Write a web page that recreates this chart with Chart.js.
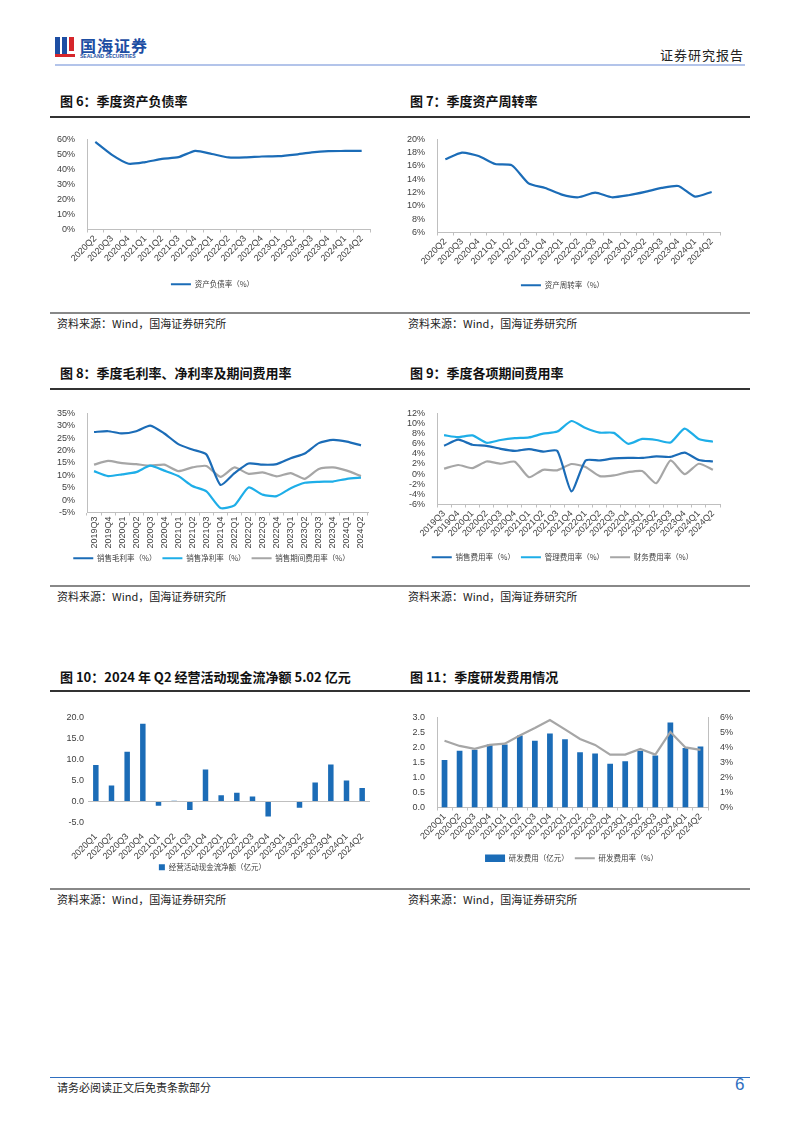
<!DOCTYPE html>
<html>
<head>
<meta charset="utf-8">
<script src="https://cdn.jsdelivr.net/npm/chart.js@4.4.1/dist/chart.umd.min.js"></script>
<style>
  body { margin: 0; background: #fff; font-family: "Noto Sans CJK SC", "Liberation Sans", sans-serif; }
  .page { position: relative; width: 802px; height: 1133px; }
  .abs { position: absolute; }
  .title { font-size: 13px; font-weight: bold; color: #111; white-space: nowrap; }
  .src { font-size: 11px; color: #222; white-space: nowrap; }
  .rule { height: 2px; background: #333; left: 50px; width: 700px; }
  .srule { height: 2px; background: #888; left: 50px; width: 700px; }
  .box canvas { display: block; }
</style>
</head>
<body>
<div class="page">
  <!-- header -->
  <div class="abs" style="left:55px;top:37px;width:5px;height:20px;background:#1d4ea3"></div>
  <div class="abs" style="left:62px;top:37px;width:5px;height:20px;background:#1d4ea3"></div>
  <div class="abs" style="left:69px;top:37px;width:5px;height:14px;background:#d6262b"></div>
  <div class="abs" style="left:55px;top:54px;width:20px;height:3px;background:#d6262b"></div>
  <div class="abs" style="left:80px;top:33px;font-size:16px;font-weight:bold;color:#1d4ea3;letter-spacing:1px">国海证券</div>
  <div class="abs" style="left:80px;top:53px;font-size:5px;font-weight:bold;color:#1d4ea3;font-family:'Liberation Sans'">SEALAND SECURITIES</div>
  <div class="abs" style="left:660px;top:45px;font-size:13px;color:#222;letter-spacing:1px">证券研究报告</div>
  <div class="abs" style="left:55px;top:64px;width:690px;height:2px;background:#b3c4ea"></div>

  <!-- row 1 -->
  <div class="abs title" style="left:60px;top:91px">图 6：季度资产负债率</div>
  <div class="abs title" style="left:410px;top:91px">图 7：季度资产周转率</div>
  <div class="abs rule" style="top:116px"></div>
  <div class="abs box" style="left:55px;top:130px;width:320px;height:168px"><canvas id="c6"></canvas></div>
  <div class="abs box" style="left:405px;top:130px;width:345px;height:169px"><canvas id="c7"></canvas></div>
  <div class="abs srule" style="top:312px"></div>
  <div class="abs src" style="left:57px;top:315px">资料来源：Wind，国海证券研究所</div>
  <div class="abs src" style="left:408px;top:315px">资料来源：Wind，国海证券研究所</div>

  <!-- row 2 -->
  <div class="abs title" style="left:60px;top:363px">图 8：季度毛利率、净利率及期间费用率</div>
  <div class="abs title" style="left:410px;top:363px">图 9：季度各项期间费用率</div>
  <div class="abs rule" style="top:388px"></div>
  <div class="abs box" style="left:55px;top:404px;width:320px;height:168px"><canvas id="c8"></canvas></div>
  <div class="abs box" style="left:405px;top:404px;width:345px;height:167px"><canvas id="c9"></canvas></div>
  <div class="abs srule" style="top:585px"></div>
  <div class="abs src" style="left:57px;top:588px">资料来源：Wind，国海证券研究所</div>
  <div class="abs src" style="left:408px;top:588px">资料来源：Wind，国海证券研究所</div>

  <!-- row 3 -->
  <div class="abs title" style="left:60px;top:667px">图 10：2024 年 Q2 经营活动现金流净额 5.02 亿元</div>
  <div class="abs title" style="left:410px;top:667px">图 11：季度研发费用情况</div>
  <div class="abs rule" style="top:690px"></div>
  <div class="abs box" style="left:55px;top:708px;width:320px;height:173px"><canvas id="c10"></canvas></div>
  <div class="abs box" style="left:405px;top:708px;width:345px;height:164px"><canvas id="c11"></canvas></div>
  <div class="abs srule" style="top:888px"></div>
  <div class="abs src" style="left:57px;top:891px">资料来源：Wind，国海证券研究所</div>
  <div class="abs src" style="left:408px;top:891px">资料来源：Wind，国海证券研究所</div>

  <!-- footer -->
  <div class="abs" style="left:50px;top:1077px;width:700px;height:1px;background:#2f6fc0"></div>
  <div class="abs src" style="left:57px;top:1079px">请务必阅读正文后免责条款部分</div>
  <div class="abs" style="left:735px;top:1075px;font-size:17px;color:#2f6fc0;font-family:'Liberation Sans'">6</div>
</div>

<script>
// quarter labels
const q20to24 = ['2020Q2','2020Q3','2020Q4','2021Q1','2021Q2','2021Q3','2021Q4','2022Q1','2022Q2','2022Q3','2022Q4','2023Q1','2023Q2','2023Q3','2023Q4','2024Q1','2024Q2'];
const q19to24 = ['2019Q3','2019Q4','2020Q1','2020Q2','2020Q3','2020Q4','2021Q1','2021Q2','2021Q3','2021Q4','2022Q1','2022Q2','2022Q3','2022Q4','2023Q1','2023Q2','2023Q3','2023Q4','2024Q1','2024Q2'];
const q20q1to24 = ['2020Q1','2020Q2','2020Q3','2020Q4','2021Q1','2021Q2','2021Q3','2021Q4','2022Q1','2022Q2','2022Q3','2022Q4','2023Q1','2023Q2','2023Q3','2023Q4','2024Q1','2024Q2'];

// fig 6 / 7
const debtRatio = [58.3, 49.7, 43.8, 44.9, 47.0, 48.2, 52.4, 50.3, 48.0, 48.0, 48.6, 48.8, 49.9, 51.4, 52.2, 52.3, 52.4];
const turnover = [17.0, 18.0, 17.5, 16.3, 16.1, 13.4, 12.7, 11.7, 11.3, 12.0, 11.3, 11.6, 12.1, 12.7, 13.0, 11.4, 12.1];

// fig 8
const grossMargin = [27.5, 27.8, 26.9, 27.8, 30.1, 26.9, 22.6, 20.4, 18.4, 6.1, 10.9, 14.8, 14.3, 14.5, 16.9, 18.8, 23.0, 24.3, 23.6, 22.1];
const netMargin = [11.7, 9.7, 10.4, 11.3, 13.9, 11.9, 9.7, 5.7, 3.5, -3.2, -2.1, 5.1, 2.2, 1.6, 4.8, 7.0, 7.4, 7.5, 8.6, 9.1];
const periodExp = [14.3, 15.8, 14.9, 14.5, 13.9, 14.3, 11.7, 13.2, 13.8, 9.4, 13.2, 10.6, 11.2, 9.6, 10.9, 8.6, 12.6, 13.2, 11.9, 9.7];

// fig 9
const sellExp = [5.6, 6.8, 5.8, 5.6, 5.0, 4.6, 4.95, 4.45, 4.6, -3.4, 2.7, 2.7, 3.1, 3.2, 3.2, 3.5, 3.4, 4.25, 2.8, 2.5];
const mgmtExp = [7.7, 7.3, 7.65, 6.2, 6.75, 7.1, 7.25, 8.0, 8.4, 10.5, 9.1, 8.2, 8.15, 6.0, 6.95, 6.75, 6.25, 9.0, 6.95, 6.4];
const finExp = [1.1, 1.8, 1.2, 2.5, 2.05, 2.45, -0.6, 0.85, 0.75, 2.0, 1.4, -0.4, -0.25, 0.4, 0.6, -1.8, 2.7, 0.0, 2.05, 0.85];

// fig 10
const opCashFlow = [8.7, 3.8, 11.8, 18.5, -1.0, 0.2, -2.0, 7.6, 1.5, 2.1, 1.2, -3.6, 0.1, -1.5, 4.5, 8.8, 5.0, 3.2];

// fig 11
const rdExpense = [1.58, 1.89, 1.92, 2.10, 2.10, 2.40, 2.22, 2.46, 2.27, 1.84, 1.80, 1.46, 1.54, 1.89, 1.73, 2.83, 1.98, 2.03];
const rdRatio = [4.44, 4.10, 3.90, 4.17, 4.25, 4.80, 5.30, 5.83, 5.20, 4.56, 4.17, 3.52, 3.52, 3.90, 3.52, 5.03, 4.00, 3.84];

const DARK = '#1b6cb7';
const LIGHT = '#1eaee8';
const GRAY = '#a6a6a6';
const AXIS = '#bfbfbf';
const TICK = '#404040';
const CJK = '"Noto Sans CJK SC", sans-serif';

Chart.defaults.font.family = '"Liberation Sans", "Noto Sans CJK SC", sans-serif';
Chart.defaults.font.size = 9;
Chart.defaults.color = TICK;
Chart.defaults.animation = false;

function lineSet(label, data, color) {
  return { type: 'line', label: label, data: data, borderColor: color, backgroundColor: color,
    borderWidth: 2.2, pointRadius: 0, tension: 0.2, pointStyle: 'line' };
}

function xAxis(rot, h) {
  return {
    offset: true,
    grid: { display: true, drawOnChartArea: false, offset: true, color: AXIS, tickLength: 3 },
    border: { color: AXIS },
    ticks: { autoSkip: false, minRotation: rot, maxRotation: rot, padding: 1 },
    afterFit: s => { s.height = h; }
  };
}

function yAxis(min, max, step, fmt, w) {
  return {
    min: min, max: max,
    grid: { display: false },
    border: { color: AXIS },
    ticks: { stepSize: step, callback: fmt, padding: 4, autoSkip: false },
    afterFit: s => { s.width = w; }
  };
}

const pct = v => v + '%';

function legend() {
  return {
    position: 'bottom',
    labels: { usePointStyle: true, pointStyleWidth: 20, boxHeight: 8, padding: 6,
      sort: (a, b) => a.datasetIndex - b.datasetIndex,
      font: { family: CJK, size: 7.5 } }
  };
}

// 图6
new Chart(document.getElementById('c6'), {
  type: 'line',
  data: { labels: q20to24, datasets: [lineSet('资产负债率（%）', debtRatio, DARK)] },
  options: {
    responsive: true, maintainAspectRatio: false,
    layout: { padding: { left: 0, right: 5, top: 6 } },
    plugins: { legend: legend(), tooltip: { enabled: false } },
    scales: { x: xAxis(45, 45), y: yAxis(0, 60, 10, pct, 32) }
  }
});

// 图7
new Chart(document.getElementById('c7'), {
  type: 'line',
  data: { labels: q20to24, datasets: [lineSet('资产周转率（%）', turnover, DARK)] },
  options: {
    responsive: true, maintainAspectRatio: false,
    layout: { padding: { left: 0, right: 30, top: 6 } },
    plugins: { legend: legend(), tooltip: { enabled: false } },
    scales: { x: xAxis(45, 43), y: yAxis(6, 20, 2, pct, 32) }
  }
});

// 图8
new Chart(document.getElementById('c8'), {
  type: 'line',
  data: { labels: q19to24, datasets: [
    lineSet('销售毛利率（%）', grossMargin, DARK),
    lineSet('销售净利率（%）', netMargin, LIGHT),
    lineSet('销售期间费用率（%）', periodExp, GRAY)
  ] },
  options: {
    responsive: true, maintainAspectRatio: false,
    layout: { padding: { left: 0, right: 7, top: 6 } },
    plugins: { legend: legend(), tooltip: { enabled: false } },
    scales: { x: xAxis(90, 36), y: yAxis(-5, 35, 5, pct, 32) }
  }
});

// 图9
new Chart(document.getElementById('c9'), {
  type: 'line',
  data: { labels: q19to24, datasets: [
    lineSet('销售费用率（%）', sellExp, DARK),
    lineSet('管理费用率（%）', mgmtExp, LIGHT),
    lineSet('财务费用率（%）', finExp, GRAY)
  ] },
  options: {
    responsive: true, maintainAspectRatio: false,
    layout: { padding: { left: 0, right: 30, top: 6 } },
    plugins: { legend: legend(), tooltip: { enabled: false } },
    scales: { x: xAxis(45, 43), y: yAxis(-6, 12, 2, pct, 32) }
  }
});

// 图10
const y10 = yAxis(-5, 20, 5, v => v.toFixed(1), 33);
y10.border = { display: false };
y10.grid = { display: true, drawTicks: false, color: ctx => ctx.tick && ctx.tick.value === 0 ? AXIS : 'rgba(0,0,0,0)' };
const x10 = xAxis(45, 37);
x10.grid = { display: false };
x10.border = { display: false };
new Chart(document.getElementById('c10'), {
  type: 'bar',
  data: { labels: q20q1to24, datasets: [{
    label: '经营活动现金流净额（亿元）', data: opCashFlow, backgroundColor: DARK,
    barPercentage: 0.35, categoryPercentage: 1
  }] },
  options: {
    responsive: true, maintainAspectRatio: false,
    layout: { padding: { left: 0, right: 5, top: 6 } },
    plugins: {
      legend: { position: 'bottom', labels: { boxWidth: 6, boxHeight: 6, padding: 4, font: { family: CJK, size: 7.5 } } },
      tooltip: { enabled: false }
    },
    scales: { x: x10, y: y10 }
  }
});

// 图11
const y11 = yAxis(0, 3, 0.5, v => v.toFixed(1), 32);
const y11r = yAxis(0, 6, 1, pct, 30);
y11r.position = 'right';
new Chart(document.getElementById('c11'), {
  type: 'bar',
  data: { labels: q20q1to24, datasets: [
    { type: 'bar', label: '研发费用（亿元）', data: rdExpense, backgroundColor: DARK, yAxisID: 'y',
      barPercentage: 0.38, categoryPercentage: 1, pointStyle: 'rect', order: 2 },
    Object.assign(lineSet('研发费用率（%）', rdRatio, GRAY), { yAxisID: 'y1', tension: 0, order: 1 })
  ] },
  options: {
    responsive: true, maintainAspectRatio: false,
    layout: { padding: { left: 0, right: 12, top: 6 } },
    plugins: { legend: legend(), tooltip: { enabled: false } },
    scales: { x: xAxis(45, 41), y: y11, y1: y11r }
  }
});
</script>
</body>
</html>
